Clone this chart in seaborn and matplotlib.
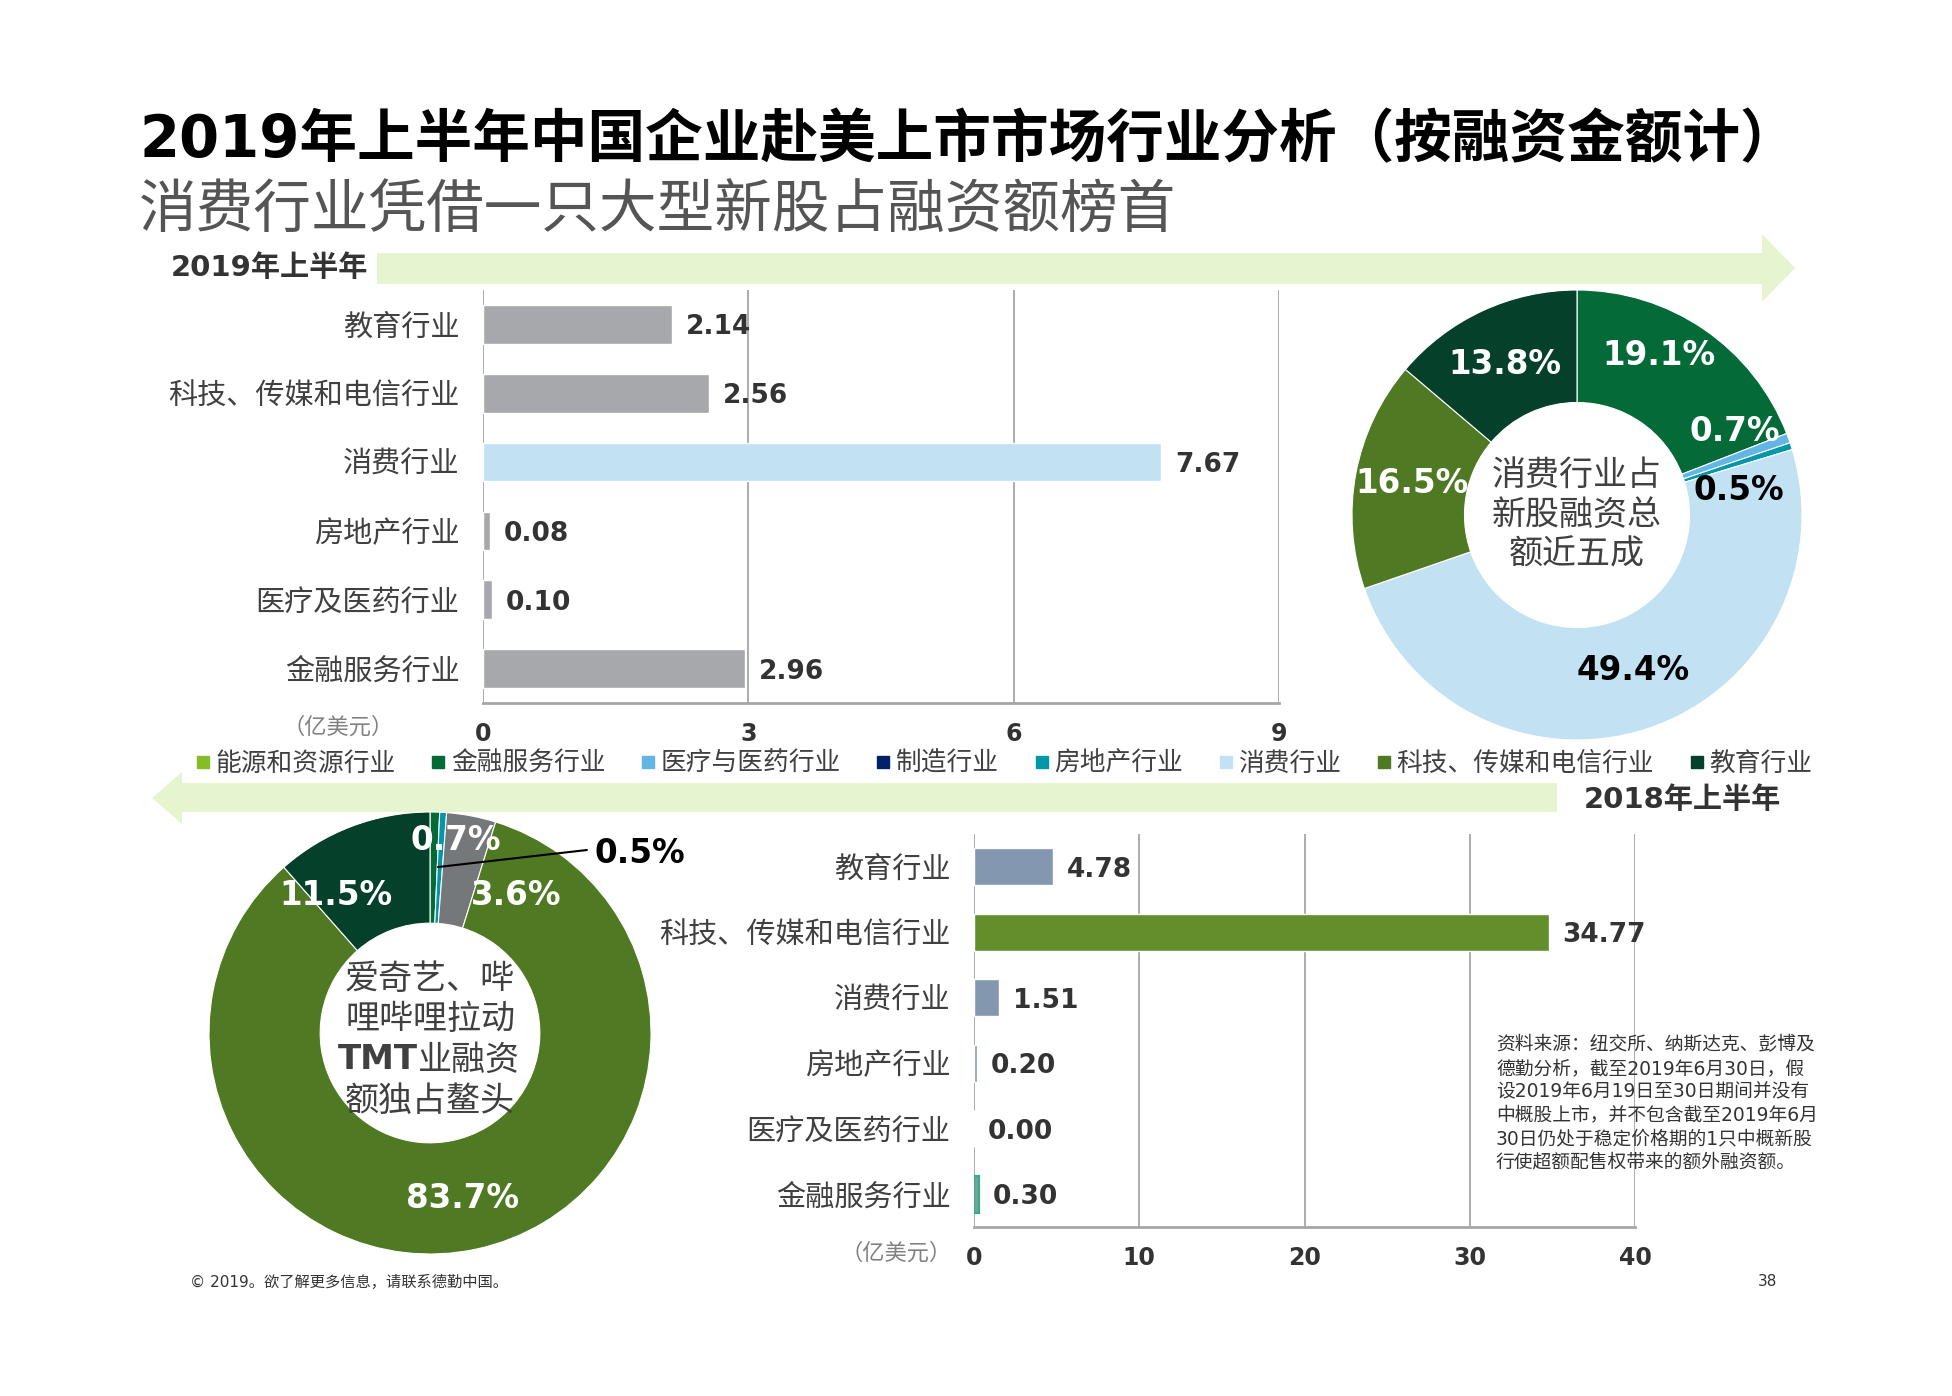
import matplotlib
matplotlib.use('Agg')
import matplotlib.pyplot as plt
import seaborn as sns
from matplotlib.patches import Polygon
from matplotlib.lines import Line2D

W, H = 1952, 1396

# ---- data ----
categories = ['教育行业', '科技、传媒和电信行业', '消费行业', '房地产行业', '医疗及医药行业', '金融服务行业']
amount_2019 = [2.14, 2.56, 7.67, 0.08, 0.10, 2.96]
amount_2018 = [4.78, 34.77, 1.51, 0.20, 0.00, 0.30]

pie_2019_sectors = ['金融服务行业', '医疗与医药行业', '房地产行业', '消费行业', '科技、传媒和电信行业', '教育行业']
pie_2019_share = [19.1, 0.7, 0.5, 49.4, 16.5, 13.8]
pie_2018_sectors = ['金融服务行业', '房地产行业', '消费行业', '科技、传媒和电信行业', '教育行业']
pie_2018_share = [0.7, 0.5, 3.6, 83.7, 11.5]

legend_sectors = ['能源和资源行业', '金融服务行业', '医疗与医药行业', '制造行业',
                  '房地产行业', '消费行业', '科技、传媒和电信行业', '教育行业']
sector_colors = {'能源和资源行业': '#86bc25', '金融服务行业': '#046a38', '医疗与医药行业': '#62b5e5',
                 '制造行业': '#012169', '房地产行业': '#0097a9', '消费行业': '#c2e2f4',
                 '科技、传媒和电信行业': '#4f7a23', '教育行业': '#04402a'}

top_bar_colors = ['#a7a8ab', '#a7a8ab', '#c2e2f4', '#a7a8ab', '#a7a8ab', '#a7a8ab']
bottom_bar_colors = ['#8497b0', '#628f2c', '#8497b0', '#8497b0', '#8497b0', '#8497b0']

source_lines = ['资料来源：纽交所、纳斯达克、彭博及',
                '德勤分析，截至2019年6月30日，假',
                '设2019年6月19日至30日期间并没有',
                '中概股上市，并不包含截至2019年6月',
                '30日仍处于稳定价格期的1只中概新股',
                '行使超额配售权带来的额外融资额。']

sns.set_style('white')
plt.rcParams['font.family'] = ['DejaVu Sans', 'Noto Sans CJK SC']

fig = plt.figure(figsize=(W / 100, H / 100), dpi=100)


def fx(x):
    return x / W


def fy(y):
    return 1 - y / H


def px_axes(x0, y0, x1, y1):
    a = fig.add_axes([fx(x0), fy(y1), (x1 - x0) / W, (y1 - y0) / H])
    a.patch.set_alpha(0)
    return a


# titles
fig.text(fx(139), fy(141), '2019年上半年中国企业赴美上市市场行业分析（按融资金额计）',
         fontsize=41.5, fontweight='bold', color='black', va='center')
fig.text(fx(139), fy(211), '消费行业凭借一只大型新股占融资额榜首',
         fontsize=41.5, color='#555555', va='center')

# arrow bands
arrow_col = '#e6f5d0'
top_arrow = [(377, 253), (1762, 253), (1762, 234), (1795, 268), (1762, 302), (1762, 284), (377, 284)]
bot_arrow = [(1557, 783), (182, 783), (182, 772), (152, 798), (182, 824), (182, 812), (1557, 812)]
for pts in (top_arrow, bot_arrow):
    fig.add_artist(Polygon([(fx(a), fy(b)) for a, b in pts], closed=True,
                           facecolor=arrow_col, edgecolor='none', transform=fig.transFigure, zorder=0))
fig.text(fx(171), fy(268), '2019年上半年', fontsize=21, fontweight='bold', color='#333333', va='center')
fig.text(fx(1584), fy(800), '2018年上半年', fontsize=21, fontweight='bold', color='#333333', va='center')


def bar_panel(ax, values, colors, xmax, step):
    sns.barplot(x=values, y=categories, hue=categories, palette=colors, orient='h',
                width=0.56, saturation=1, legend=False, ax=ax)
    for c in ax.containers:
        labels = ax.bar_label(c, fmt='%.2f', padding=10, fontsize=19, fontweight='bold', color='#333333')
        for t in labels:
            t.set_va('center_baseline')
    ax.set_xlim(0, xmax)
    ax.set_ylim(5.5, -0.5)
    ax.set_xticks(range(0, xmax + 1, step))
    ax.set_xlabel('')
    ax.set_ylabel('')
    ax.set_axisbelow(True)
    ax.grid(axis='x', color='#a6a6a6', lw=1.3)
    ax.grid(axis='y', visible=False)
    for s in ['top', 'right', 'left']:
        ax.spines[s].set_visible(False)
    ax.spines['bottom'].set_color('#a6a6a6')
    ax.spines['bottom'].set_linewidth(2)
    ax.tick_params(axis='x', length=4, color='#a6a6a6', pad=10, labelsize=17, labelcolor='#333333')
    ax.tick_params(axis='y', length=0, pad=17, labelsize=21, labelcolor='#404040')
    for t in ax.get_xticklabels():
        t.set_fontweight('bold')


ax1 = px_axes(483, 290, 1279, 703)
bar_panel(ax1, amount_2019, top_bar_colors, 9, 3)
fig.text(fx(394), fy(727), '（亿美元）', fontsize=16, color='#808080', ha='right', va='center')

ax2 = px_axes(974, 834, 1635, 1227)
bar_panel(ax2, amount_2018, bottom_bar_colors, 40, 10)
for bar in ax2.containers[5]:
    bar.set_edgecolor('#2bb673')
    bar.set_linewidth(1.5)
fig.text(fx(952), fy(1253), '（亿美元）', fontsize=16, color='#808080', ha='right', va='center')

# donut 2019
pc1 = (1577, 515)
r1 = 225
ax3 = px_axes(pc1[0] - r1, pc1[1] - r1, pc1[0] + r1, pc1[1] + r1)
ax3.pie(pie_2019_share, colors=[sector_colors[s] for s in pie_2019_sectors], startangle=90,
        counterclock=False, radius=1, wedgeprops=dict(width=0.5, edgecolor='white', linewidth=0.8))
ax3.set_xlim(-1, 1)
ax3.set_ylim(-1, 1)
lab_pos_19 = [(0.364, 0.707), (0.70, 0.373), (0.72, 0.107), (0.249, -0.693), (-0.733, 0.138), (-0.32, 0.67)]
lab_col_19 = ['white', 'white', 'black', 'black', 'white', 'white']
for v, (x, y), c in zip(pie_2019_share, lab_pos_19, lab_col_19):
    ax3.text(x, y, f'{v:.1f}%', fontsize=23.5, fontweight='bold', color=c, ha='center', va='center')
for i, line in enumerate(['消费行业占', '新股融资总', '额近五成']):
    ax3.text(0, 0.178 - i * 0.178, line, fontsize=24.5, color='#404040', ha='center', va='center')

# donut 2018
pc2 = (430, 1033)
r2 = 221
ax4 = px_axes(pc2[0] - r2, pc2[1] - r2, pc2[0] + r2, pc2[1] + r2)
pie18_colors = [sector_colors[s] for s in pie_2018_sectors]
pie18_colors[2] = '#75787b'
ax4.pie(pie_2018_share, colors=pie18_colors, startangle=90, counterclock=False, radius=1,
        wedgeprops=dict(width=0.503, edgecolor='white', linewidth=0.8))
ax4.set_xlim(-1, 1)
ax4.set_ylim(-1, 1)
lab_pos_18 = [(0.118, 0.873), (0.95, 0.814), (0.389, 0.624), (0.145, -0.747), (-0.425, 0.624)]
lab_col_18 = ['white', 'black', 'white', 'white', 'white']
for v, (x, y), c in zip(pie_2018_share, lab_pos_18, lab_col_18):
    ax4.text(x, y, f'{v:.1f}%', fontsize=23.5, fontweight='bold', color=c, ha='center', va='center')
ax4.plot([0.036, 0.71], [0.751, 0.828], color='black', lw=1.5)
ax4.text(0, 0.24, '爱奇艺、哔', fontsize=24.5, color='#404040', ha='center', va='center')
ax4.text(0, 0.059, '哩哔哩拉动', fontsize=24.5, color='#404040', ha='center', va='center')
ax4.text(-0.054, -0.122, 'TMT', fontsize=24.5, fontweight='bold', color='#404040', ha='right', va='center')
ax4.text(-0.054, -0.122, '业融资', fontsize=24.5, color='#404040', ha='left', va='center')
ax4.text(0, -0.312, '额独占鳌头', fontsize=24.5, color='#404040', ha='center', va='center')

# legend
handles = [Line2D([0], [0], marker='s', linestyle='', markersize=9,
                  markerfacecolor=sector_colors[s], markeredgecolor=sector_colors[s]) for s in legend_sectors]
fig.legend(handles, legend_sectors, loc='center', bbox_to_anchor=(fx(1003), fy(764)), ncol=8,
           frameon=False, fontsize=18.5, handlelength=0.7, handletextpad=0.15, columnspacing=1.3,
           labelcolor='#404040')

# source note and footer
for i, line in enumerate(source_lines):
    fig.text(fx(1496), fy(1045 + i * 23.4), line, fontsize=13.5, color='#333333', va='center')
fig.text(fx(190), fy(1282), '© 2019。欲了解更多信息，请联系德勤中国。', fontsize=11, color='#333333', va='center')
fig.text(fx(1758), fy(1281), '38', fontsize=11, color='#333333', va='center')

fig.savefig('out.png', dpi=100, facecolor='white')
